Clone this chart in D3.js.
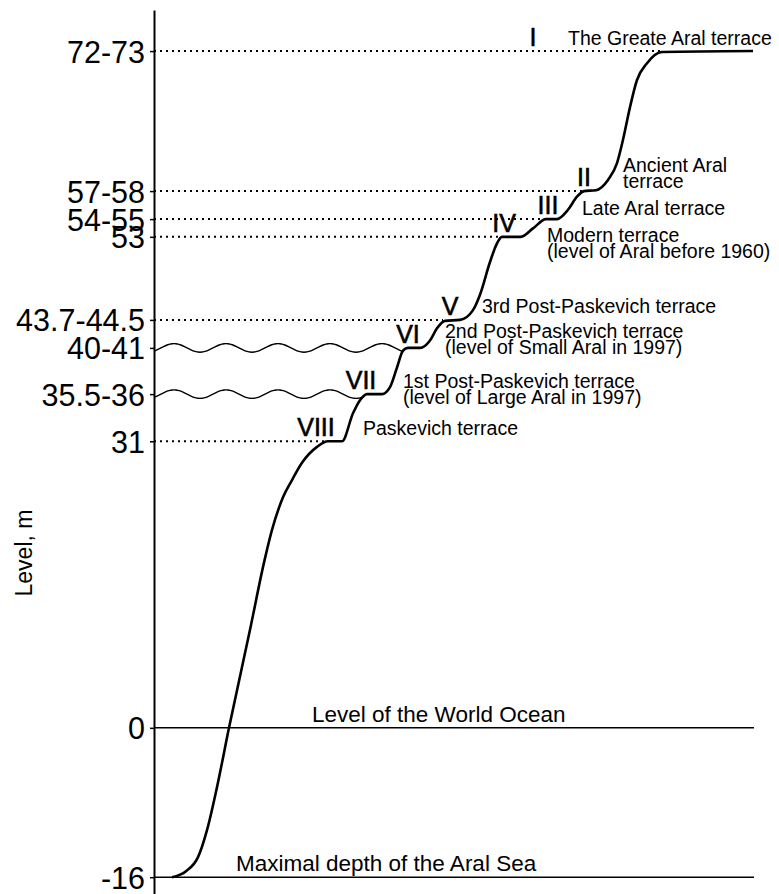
<!DOCTYPE html>
<html>
<head>
<meta charset="utf-8">
<script src="https://cdn.jsdelivr.net/npm/d3@7"></script>
<style>
  body { margin: 0; background: #fff; }
  svg text { font-family: "Liberation Sans", Arial, sans-serif; fill: #000; }
</style>
</head>
<body>
<div id="chart"></div>
<script>
// profile of the Aral Sea basin (relative distance, level in m)
const profileDist = [18, 32, 44, 53, 63, 75, 96, 110, 118, 129, 138, 148, 163, 174, 188, 199, 206, 213, 228, 236, 243, 249, 254, 266,
    276, 283, 291, 306, 319, 326, 336, 343, 348, 367, 379, 392, 403, 414, 423, 430, 442, 454, 463, 469, 476, 483, 493, 508, 599];
const profileLevel = [-16, -15.35, -13.85, -10.95, -6.35, 0, 10.5, 17.7, 21.2, 24.7, 26.55, 28.4, 30.1, 30.7, 30.7, 33.7, 35.1, 35.75, 35.75, 36.5, 38.6, 40.4, 40.7, 40.7,
    41.5, 42.8, 43.6, 43.7, 44.75, 46.4, 49.9, 51.9, 52.6, 52.6, 53.5, 54.5, 54.5, 55.5, 56.9, 57.5, 57.6, 58.7, 60.5, 63, 66.5, 69.4, 71.2, 72.4, 72.5];

const tickLevels = [72.5, 57.5, 54.5, 52.6, 43.7, 40.7, 35.75, 30.7, 0, -16];
const tickLabels = ["72-73", "57-58", "54-55", "53", "43.7-44.5", "40-41", "35.5-36", "31", "0", "-16"];

const dottedLevels = [72.5, 57.5, 54.5, 52.6, 43.7, 30.7];
const dottedEnds = [508, 429, 391, 346, 289, 174];

const waterLevels = [40.7, 35.75];
const waterEnds = [251, 211];

const refLevels = [0, -16];
const refNames = ["Level of the World Ocean", "Maximal depth of the Aral Sea"];

const romanNumerals = ["I", "II", "III", "IV", "V", "VI", "VII", "VIII"];
const terraceLevels = [72.5, 57.5, 54.5, 52.6, 43.7, 40.7, 35.75, 30.7];
const terraceNames = [
    ["The Greate Aral terrace"],
    ["Ancient Aral", "terrace"],
    ["Late Aral terrace"],
    ["Modern terrace", "(level of Aral before 1960)"],
    ["3rd Post-Paskevich terrace"],
    ["2nd Post-Paskevich terrace", "(level of Small Aral in 1997)"],
    ["1st Post-Paskevich terrace", "(level of Large Aral in 1997)"],
    ["Paskevich terrace"]
];

// label placement (distance units, pixel offsets)
const romanDist = [379, 430, 394, 350, 296, 254, 207, 162];
const nameDist = [414, 469, 428, 393, 328, 291, 249, 209];
const nameDy = [-6, -19, -4, 5, -7, -10, -6, -6];
const refNameDist = [158, 82];

const width = 779, height = 894;

const svg = d3.select("#chart")
    .append("svg")
    .attr("width", width)
    .attr("height", height);

const x = d3.scaleLinear().domain([0, 600]).range([154, 754]);
const y = d3.scaleLinear().domain([-17.8, 76.9]).range([894, 10]);

// axis
const axis = svg.append("g")
    .attr("transform", `translate(${x(0)}, 0)`)
    .call(d3.axisLeft(y)
        .tickValues(tickLevels)
        .tickFormat(function (d, i) { return tickLabels[i]; })
        .tickSize(4)
        .tickSizeOuter(0)
        .tickPadding(5));
axis.select(".domain").attr("stroke", "#000").attr("stroke-width", 2);
axis.selectAll(".tick line").attr("stroke", "#000").attr("stroke-width", 1.5);
axis.selectAll(".tick text")
    .style("font-family", "'Liberation Sans', Arial, sans-serif")
    .style("font-size", "30.5px")
    .attr("dy", "0.36em")
    .attr("fill", "#000");

svg.append("text")
    .attr("transform", "translate(32, 553) rotate(-90)")
    .attr("text-anchor", "middle")
    .style("font-size", "23px")
    .text("Level, m");

// dotted terrace levels
svg.selectAll(".dotted")
    .data(dottedLevels)
    .enter()
    .append("line")
    .attr("x1", x(0))
    .attr("x2", function (d, i) { return x(dottedEnds[i]); })
    .attr("y1", function (d) { return y(d); })
    .attr("y2", function (d) { return y(d); })
    .attr("stroke", "#000")
    .attr("stroke-width", 2)
    .attr("stroke-dasharray", "2,4");

// reference levels
svg.selectAll(".ref")
    .data(refLevels)
    .enter()
    .append("line")
    .attr("x1", x(0))
    .attr("x2", x(600))
    .attr("y1", function (d) { return y(d); })
    .attr("y2", function (d) { return y(d); })
    .attr("stroke", "#000")
    .attr("stroke-width", 1.5);

svg.selectAll(".refname")
    .data(refNames)
    .enter()
    .append("text")
    .attr("x", function (d, i) { return x(refNameDist[i]); })
    .attr("y", function (d, i) { return y(refLevels[i]) - 6; })
    .style("font-size", "22.5px")
    .text(function (d) { return d; });

// water surfaces (wavy line style)
const wave = d3.line().curve(d3.curveBasis);
waterLevels.forEach(function (lv, i) {
    const px = d3.range(x(0), x(waterEnds[i]) + 0.5, 2);
    svg.append("path")
        .attr("d", wave(px.map(function (p) {
            return [p, y(lv) - 4.3 * Math.cos(2 * Math.PI * (p - 174) / 52)];
        })))
        .attr("fill", "none")
        .attr("stroke", "#000")
        .attr("stroke-width", 1.4);
});

// profile
const line = d3.line()
    .x(function (d) { return x(d[0]); })
    .y(function (d) { return y(d[1]); })
    .curve(d3.curveMonotoneX);

svg.append("path")
    .attr("d", line(d3.zip(profileDist, profileLevel)))
    .attr("fill", "none")
    .attr("stroke", "#000")
    .attr("stroke-width", 2.6)
    .attr("stroke-linejoin", "round");

// roman numerals
svg.selectAll(".roman")
    .data(romanNumerals)
    .enter()
    .append("text")
    .attr("x", function (d, i) { return x(romanDist[i]); })
    .attr("y", function (d, i) { return y(terraceLevels[i]) - 5; })
    .attr("text-anchor", "middle")
    .attr("stroke", "#000")
    .attr("stroke-width", 0.6)
    .style("font-size", "25px")
    .text(function (d) { return d; });

// terrace names
const names = svg.selectAll(".name")
    .data(terraceNames)
    .enter()
    .append("text")
    .attr("x", function (d, i) { return x(nameDist[i]); })
    .attr("y", function (d, i) { return y(terraceLevels[i]) + nameDy[i]; })
    .style("font-size", "19.5px");

names.each(function (d, i) {
    d3.select(this).selectAll("tspan")
        .data(d)
        .enter()
        .append("tspan")
        .attr("x", x(nameDist[i]))
        .attr("dy", function (t, j) { return j === 0 ? 0 : 16; })
        .text(function (t) { return t; });
});
</script>
</body>
</html>
